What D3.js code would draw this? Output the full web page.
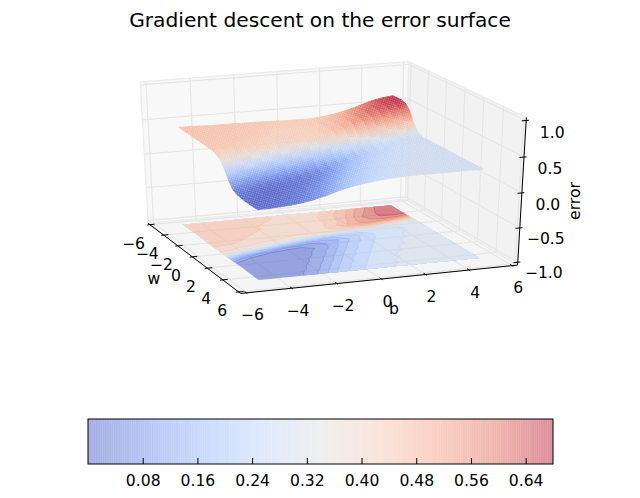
<!DOCTYPE html>
<html><head><meta charset="utf-8">
<script src="https://cdn.jsdelivr.net/npm/d3@7"></script>
<style>html,body{margin:0;padding:0;background:#fff}svg{display:block}text{font-family:"DejaVu Sans",sans-serif;fill:#000}</style>
</head><body><svg id="c" width="640" height="498"></svg>
<script>
const titleText = "Gradient descent on the error surface";
const wTicks = [-6,-4,-2,0,2,4,6];
const bTicks = [-6,-4,-2,0,2,4,6];
const zTicks = [-1,-0.5,0,0.5,1];
const barTicks = [0.08,0.16,0.24,0.32,0.40,0.48,0.56,0.64];
const wValues = [-5,-4.5,-4,-3.5,-3,-2.5,-2,-1.5,-1,-0.5,0,0.5,1,1.5,2,2.5,3,3.5,4,4.5,5];
const bValues = [-5,-4.5,-4,-3.5,-3,-2.5,-2,-1.5,-1,-0.5,0,0.5,1,1.5,2,2.5,3,3.5,4,4.5,5];
// error: one row per w, one column per b
const errorRows = [
[.46,.46,.455,.45,.45,.45,.445,.445,.44,.435,.43,.43,.43,.44,.46,.49,.53,.58,.63,.66,.68],
[.46,.455,.45,.45,.45,.445,.445,.445,.44,.43,.43,.43,.43,.45,.48,.51,.56,.60,.64,.67,.68],
[.455,.45,.45,.45,.445,.445,.445,.44,.43,.43,.43,.43,.44,.46,.49,.53,.58,.62,.65,.67,.68],
[.455,.45,.45,.45,.445,.445,.44,.43,.425,.425,.425,.43,.44,.47,.50,.55,.60,.63,.65,.66,.66],
[.45,.45,.45,.445,.445,.445,.44,.43,.42,.42,.425,.43,.44,.47,.51,.56,.59,.62,.62,.61,.57],
[.45,.45,.445,.445,.445,.44,.43,.42,.42,.42,.425,.43,.45,.49,.53,.56,.57,.55,.52,.47,.42],
[.45,.445,.445,.445,.44,.43,.42,.42,.415,.42,.42,.43,.45,.47,.48,.49,.46,.42,.37,.33,.32],
[.445,.445,.445,.44,.435,.43,.42,.41,.41,.41,.41,.40,.39,.38,.36,.34,.31,.30,.29,.29,.29],
[.445,.445,.44,.43,.42,.41,.40,.39,.37,.35,.31,.29,.26,.25,.25,.25,.26,.27,.28,.29,.29],
[.435,.42,.41,.41,.39,.37,.34,.30,.25,.20,.17,.16,.17,.19,.22,.25,.26,.27,.28,.29,.29],
[.41,.40,.38,.36,.31,.26,.20,.15,.10,.09,.10,.12,.16,.20,.23,.25,.27,.28,.29,.29,.29],
[.37,.34,.28,.23,.16,.10,.06,.05,.04,.06,.10,.14,.18,.21,.24,.26,.27,.28,.29,.29,.29],
[.27,.19,.13,.07,.04,.02,.02,.02,.04,.07,.11,.16,.20,.23,.25,.27,.28,.29,.29,.29,.29],
[.14,.07,.03,.01,.01,.01,.02,.03,.06,.09,.14,.18,.21,.24,.26,.27,.28,.29,.29,.29,.29],
[.05,.02,.01,.00,.00,.01,.02,.04,.07,.11,.16,.20,.23,.25,.27,.28,.29,.29,.29,.29,.29],
[.02,.01,.00,.00,.01,.02,.03,.06,.09,.14,.18,.21,.24,.26,.27,.28,.29,.29,.29,.29,.29],
[.01,.00,.00,.00,.01,.02,.04,.07,.11,.16,.20,.23,.25,.27,.28,.29,.29,.29,.29,.29,.29],
[.00,.00,.00,.01,.02,.03,.06,.09,.14,.18,.21,.24,.26,.27,.28,.29,.29,.29,.29,.29,.29],
[.00,.00,.00,.01,.02,.04,.07,.11,.16,.20,.23,.25,.27,.28,.29,.29,.29,.29,.29,.29,.29],
[.00,.00,.01,.02,.03,.06,.09,.14,.18,.21,.24,.26,.27,.28,.29,.29,.29,.29,.29,.29,.29],
[.00,.00,.01,.02,.04,.07,.11,.16,.20,.23,.25,.27,.28,.29,.29,.29,.29,.29,.29,.29,.29]
];
const coolwarmStops = ["#3b4cc0","#6282ea","#8db0fe","#b8d0f9","#dddddd","#f5c4ac","#f4987a","#dc5f4b","#b40426"];

const svg = d3.select("#c");
const defs = svg.append("defs");
const zMax = 0.68;
const colorPos = d3.scaleLinear().domain([0,zMax]).range([0,1]).clamp(true);
const ramp = d3.scaleLinear().domain(d3.range(coolwarmStops.length).map(i=>i/(coolwarmStops.length-1))).range(coolwarmStops).interpolate(d3.interpolateRgb);
const color = v => ramp(colorPos(v));

// 3D view
const elev = 25*Math.PI/180, azim = -21*Math.PI/180, dist = 10;
const wn = d3.scaleLinear().domain([-6,6]).range([-.5,.5]);
const bn = d3.scaleLinear().domain([-6,6]).range([-.5,.5]);
const zn = d3.scaleLinear().domain([-1,1]).range([-.5,.5]);
const surfaceHeight = 0.96; // calibration of the surface's drawn height against the z axis
const n = [Math.cos(elev)*Math.cos(azim),Math.cos(elev)*Math.sin(azim),Math.sin(elev)];
const hl = Math.hypot(n[0],n[1]);
const ux = [-n[1]/hl,n[0]/hl,0];
const vx = [n[1]*ux[2]-n[2]*ux[1], n[2]*ux[0]-n[0]*ux[2], n[0]*ux[1]-n[1]*ux[0]];
const dot=(a,b)=>a[0]*b[0]+a[1]*b[1]+a[2]*b[2];
const screenX = d3.scaleLinear().domain([0,1]).range([328,328+280.3]);
const screenY = d3.scaleLinear().domain([0,1]).range([173,173-153]);
function depth(w,b,z){return dist-dot([wn(w),bn(b),zn(z)],n);}
function project(w,b,z){
  const p=[wn(w),bn(b),zn(z)], d=dist-dot(p,n);
  return [screenX(dot(p,ux)*dist/d), screenY(dot(p,vx)*dist/d)];
}
const wLo=-6.25,wHi=6.25,bLo=-6.25,bHi=6.25,zLo=-1.0417,zHi=1.0417;
const poly = d3.line();

// panes
function pane(pts,fill){svg.append("path").attr("d",poly(pts.map(p=>project(...p)))+"Z").attr("fill",fill).attr("stroke","#ececec").attr("stroke-width",1.4);}
pane([[wLo,bLo,zLo],[wLo,bHi,zLo],[wLo,bHi,zHi],[wLo,bLo,zHi]],"#f8f8f8");
pane([[wLo,bHi,zLo],[wHi,bHi,zLo],[wHi,bHi,zHi],[wLo,bHi,zHi]],"#f2f2f2");
pane([[wLo,bLo,zLo],[wHi,bLo,zLo],[wHi,bHi,zLo],[wLo,bHi,zLo]],"#f5f5f5");
// grid
const gridSegs=[];
wTicks.forEach(t=>{gridSegs.push([[t,bLo,zLo],[t,bHi,zLo]]);gridSegs.push([[t,bHi,zLo],[t,bHi,zHi]]);});
bTicks.forEach(t=>{gridSegs.push([[wLo,t,zLo],[wHi,t,zLo]]);gridSegs.push([[wLo,t,zLo],[wLo,t,zHi]]);});
zTicks.forEach(t=>{gridSegs.push([[wLo,bLo,t],[wLo,bHi,t]]);gridSegs.push([[wLo,bHi,t],[wHi,bHi,t]]);});
svg.append("g").selectAll("path").data(gridSegs).join("path")
  .attr("d",s=>poly(s.map(p=>project(...p)))).attr("stroke","#e6e6e6").attr("stroke-width",1.2).attr("fill","none");

// floor contours
const nw=wValues.length, nb=bValues.length;
const flat=errorRows.flat();
const levels=d3.range(0,zMax,0.04);
const gridB=d3.scaleLinear().domain([.5,nb-.5]).range([bValues[0],bValues[nb-1]]).clamp(true);
const gridW=d3.scaleLinear().domain([.5,nw-.5]).range([wValues[0],wValues[nw-1]]).clamp(true);
const floorPt=(x,y)=>project(gridW(y),gridB(x),-1);
const floorPath=d3.geoPath(d3.geoTransform({point(x,y){const p=floorPt(x,y);this.stream.point(p[0],p[1]);}}));
const bands=d3.contours().size([nb,nw]).thresholds(levels)(flat);
const floorG=svg.append("g").attr("opacity",.52);
floorG.selectAll("path").data(bands).join("path").attr("d",floorPath).attr("fill",d=>color(d.value+.02));
function interiorSegments(ring){
  const edge=(p,q)=>(p[0]<=.5&&q[0]<=.5)||(p[0]>=nb-.5&&q[0]>=nb-.5)||(p[1]<=.5&&q[1]<=.5)||(p[1]>=nw-.5&&q[1]>=nw-.5);
  const out=[];let cur=[];
  for(let i=1;i<ring.length;i++){
    if(edge(ring[i-1],ring[i])){if(cur.length>1)out.push(cur);cur=[];}
    else{if(!cur.length)cur.push(ring[i-1]);cur.push(ring[i]);}
  }
  if(cur.length>1)out.push(cur);
  return out;
}
const lineG=svg.append("g").attr("opacity",.5).attr("fill","none").attr("stroke-width",.9);
bands.slice(1).forEach(b=>{
  b.coordinates.forEach(polyg=>polyg.forEach(ring=>interiorSegments(ring).forEach(seg=>{
    lineG.append("path").attr("d",poly(seg.map(p=>floorPt(p[0],p[1])))).attr("stroke",color(b.value));
  })));
});

// surface cells
const cells=[];
for(let i=0;i<nw-1;i++)for(let j=0;j<nb-1;j++){
  const c=[[i,j],[i,j+1],[i+1,j+1],[i+1,j]].map(([a,k])=>[wValues[a],bValues[k],errorRows[a][k]]);
  cells.push({i,j,c,d:d3.mean(c,p=>depth(...p)),zA:(c[0][2]+c[1][2])/2,zB:(c[2][2]+c[3][2])/2});
}
cells.sort((a,b)=>b.d-a.d);
const surfPt=p=>project(p[0],p[1],p[2]*surfaceHeight);
const surf=svg.append("g").attr("opacity",.86);
const pat=defs.append("pattern").attr("id","dots").attr("width",2.1).attr("height",2.1).attr("patternUnits","userSpaceOnUse").attr("patternTransform","rotate(18)");
pat.append("circle").attr("cx",1.05).attr("cy",1.05).attr("r",.7).attr("fill","#fff").attr("fill-opacity",.36);
cells.forEach((cell,k)=>{
  const P=cell.c.map(surfPt);
  const id="g"+k;
  const g=defs.append("linearGradient").attr("id",id).attr("gradientUnits","userSpaceOnUse")
    .attr("x1",(P[0][0]+P[1][0])/2).attr("y1",(P[0][1]+P[1][1])/2)
    .attr("x2",(P[2][0]+P[3][0])/2).attr("y2",(P[2][1]+P[3][1])/2);
  g.append("stop").attr("offset",0).attr("stop-color",color(cell.zA));
  g.append("stop").attr("offset",1).attr("stop-color",color(cell.zB));
  surf.append("path").attr("d",poly(P)+"Z").attr("fill",`url(#${id})`).attr("stroke",`url(#${id})`).attr("stroke-width",.7);
});
svg.append("path").attr("d",cells.map(cell=>poly(cell.c.map(surfPt))+"Z").join(""))
  .attr("fill","url(#dots)");

// axes
const axisSegs=[[[wLo,bLo,zLo],[wHi,bLo,zLo]],[[wHi,bLo,zLo],[wHi,bHi,zLo]],[[wHi,bHi,zLo],[wHi,bHi,zHi]]];
svg.append("g").selectAll("path").data(axisSegs).join("path").attr("d",s=>poly(s.map(p=>project(...p)))).attr("stroke","#000").attr("stroke-width",1).attr("fill","none");
const tickSegs=[
  ...wTicks.map(t=>[[t,bLo-.12,zLo],[t,bLo+.22,zLo]]),
  ...bTicks.map(t=>[[wHi-.22,t,zLo],[wHi+.12,t,zLo]]),
  ...zTicks.map(t=>[[wHi,bHi-.2,t],[wHi,bHi+.12,t]])
];
svg.append("g").selectAll("path").data(tickSegs).join("path").attr("d",s=>poly(s.map(p=>project(...p)))).attr("stroke","#000").attr("stroke-width",1).attr("fill","none");
const fmtT=t=>String(t).replace("-","\u2212");
const fmtZ=t=>t.toFixed(1).replace("-","\u2212");
const fs=15.6;
svg.append("g").selectAll("text").data(wTicks).join("text").attr("font-size",fs).attr("text-anchor","middle")
  .attr("x",t=>project(t,bLo,zLo)[0]-16.5).attr("y",t=>project(t,bLo,zLo)[1]+24).text(fmtT);
svg.append("g").selectAll("text").data(bTicks).join("text").attr("font-size",fs).attr("text-anchor","middle")
  .attr("x",t=>project(wHi,t,zLo)[0]+6).attr("y",t=>project(wHi,t,zLo)[1]+27.5).text(fmtT);
svg.append("g").selectAll("text").data(zTicks).join("text").attr("font-size",fs).attr("text-anchor","middle")
  .attr("x",t=>project(wHi,bHi,t)[0]+26).attr("y",t=>project(wHi,bHi,t)[1]+16.6+t).text(fmtZ);
svg.append("text").attr("x",154).attr("y",284).attr("font-size",fs).attr("text-anchor","middle").text("w");
svg.append("text").attr("x",394).attr("y",314).attr("font-size",fs).attr("text-anchor","middle").text("b");
svg.append("text").attr("transform","translate(580,201) rotate(-90)").attr("font-size",fs).attr("text-anchor","middle").text("error");
svg.append("text").attr("x",320).attr("y",26.5).attr("font-size",20.2).attr("text-anchor","middle").text(titleText);

// colorbar
const barX=d3.scaleLinear().domain([0,zMax]).range([88,553]);
const barTop=419, barBottom=464;
const steps=d3.range(0,256).map(i=>i/256*zMax);
svg.append("g").selectAll("rect").data(steps).join("rect")
  .attr("x",v=>barX(v)).attr("width",465/256).attr("y",barTop).attr("height",barBottom-barTop)
  .attr("fill",v=>color(v)).attr("fill-opacity",.46);
svg.append("rect").attr("x",88).attr("y",barTop).attr("width",465).attr("height",barBottom-barTop).attr("fill","none").attr("stroke","#000");
const barAxis=svg.append("g").attr("transform",`translate(0,${barBottom})`)
  .call(d3.axisBottom(barX).tickValues(barTicks).tickFormat(d3.format(".2f")).tickSize(-6).tickPadding(11));
barAxis.select(".domain").remove();
barAxis.selectAll("text").attr("font-size",fs).attr("font-family",'"DejaVu Sans"');
barAxis.selectAll("line").attr("stroke","#000");
</script></body></html>
